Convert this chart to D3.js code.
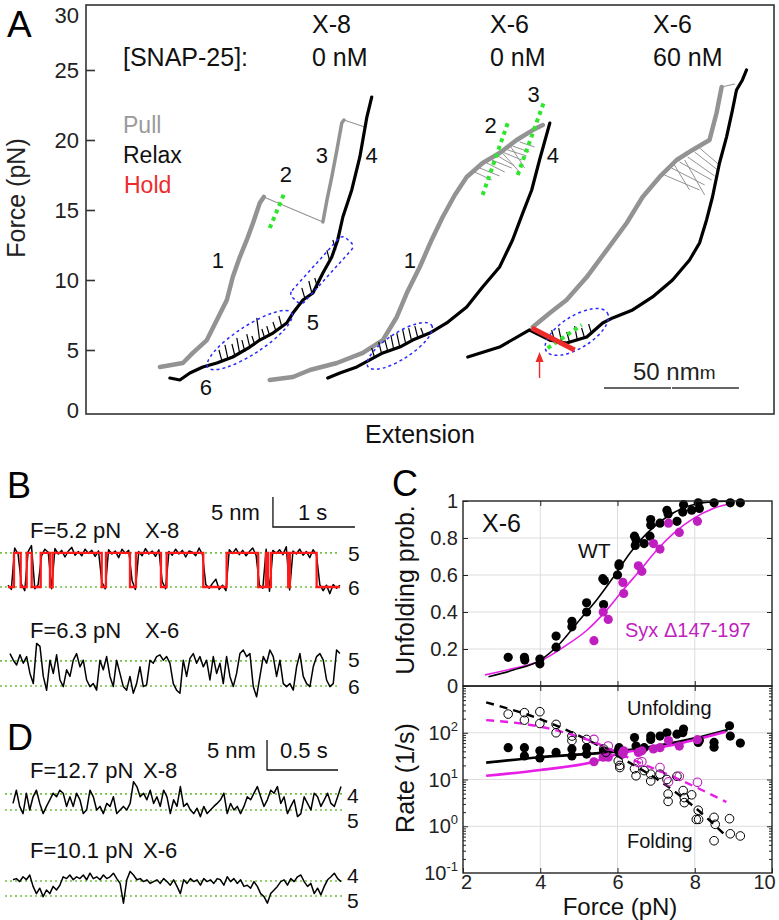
<!DOCTYPE html>
<html>
<head>
<meta charset="utf-8">
<script src="https://cdn.jsdelivr.net/npm/d3@7/dist/d3.min.js"></script>
<style>
html,body{margin:0;padding:0;background:#fff;}
svg{display:block;}
</style>
</head>
<body>
<svg id="fig" width="779" height="920" xmlns="http://www.w3.org/2000/svg"></svg>
<script>
// ================= DATA =================
// ---- Panel A: force-extension traces [extension (nm), force (pN)] ----
const forceTicksA = [0, 5, 10, 15, 20, 25, 30];
const pullX8a = [[27.4,3.79],[35.9,4.07],[39.6,4.79],[44.8,5.71],[48.5,7.14],[52.2,8.57],[54.4,10.21],[57.0,11.64],[59.6,12.86],[61.9,14.07],[64.4,15.5],[65.9,15.93]];
const pullX8drop = [[65.9,15.93],[87.8,14.14]];
const pullX8b = [[87.8,14.14],[89.3,15.71],[91.1,17.36],[93.0,19.29],[94.8,21.21],[95.6,21.43]];
const pullX8link = [[95.6,21.43],[103.3,20.93]];
const relaxX8 = [[105.9,23.07],[104.1,21.64],[101.5,18.79],[98.5,16.43],[95.2,14.5],[93.3,12.86],[91.1,11.64],[87.8,10.5],[84.1,9.07],[80.4,8.57],[76.7,7.64],[74.4,6.93],[69.3,6.21],[64.4,5.71],[60.7,5.21],[54.4,4.5],[48.5,4.07],[43.3,3.79],[38.5,3.36],[34.8,2.86],[31.1,3.0]];
const pullX6 = [[68.1,2.86],[76.7,3.07],[83.0,3.57],[93.0,4.07],[102.6,4.79],[110.0,5.71],[115.2,7.36],[118.9,9.07],[123.7,10.93],[128.1,12.86],[132.2,14.5],[136.7,16.07],[141.1,17.36],[147.0,18.36],[153.3,19.07],[159.6,20.0],[165.6,20.71],[169.3,21.07]];
const relaxX6 = [[171.9,21.21],[168.1,18.57],[165.2,16.43],[161.9,14.79],[158.1,12.86],[153.3,10.93],[147.0,9.5],[141.1,8.07],[133.7,6.93],[127.4,6.21],[121.1,5.71],[116.3,5.21],[110.0,4.79],[100.4,3.79],[94.1,3.36],[89.6,3.0]];
const pullX6s = [[165.6,6.64],[171.9,7.64],[178.1,8.57],[185.6,10.21],[193.0,12.14],[200.4,14.07],[206.3,15.93],[212.6,17.36],[218.9,18.57],[224.8,19.29],[231.1,20.0],[233.7,21.93],[235.6,23.79]];
const pullX6sLink = [[235.6,23.79],[240.4,24.0]];
const relaxX6s = [[141.5,4.5],[153.3,5.21],[164.4,6.43],[171.9,5.71],[178.1,5.5],[185.6,5.93],[191.5,6.93],[195.2,7.29],[202.6,7.86],[210.0,8.79],[217.4,10.0],[223.7,11.43],[227.4,12.64],[230.0,14.29],[232.2,15.93],[234.8,18.36],[237.4,20.21],[239.6,22.14],[241.1,23.57],[243.3,24.29],[244.8,25.0]];
const holdX6s = [[165.2,6.57],[181.1,5.0]];
// hopping spikes on relax traces [ext, F base, F top]
const spikesX8 = [[50.4,4.21,5.0],[52.6,4.36,5.36],[55.2,4.57,5.43],[57.0,4.71,5.86],[58.9,4.86,5.71],[60.7,5.21,6.14],[62.6,5.36,6.0],[64.4,5.64,7.29],[66.3,5.79,6.5],[68.1,6.0,6.71],[70.4,6.36,7.0],[72.6,6.64,7.43],[81.1,8.71,9.43],[83.7,9.07,9.93],[85.9,9.43,10.14],[90.4,11.29,12.14],[92.6,12.14,12.86]];
const spikesX6 = [[107.0,4.43,5.14],[109.6,4.71,5.57],[111.9,4.86,5.71],[114.1,5.0,6.07],[116.3,5.21,6.21],[118.5,5.43,6.43],[120.7,5.64,6.57],[123.0,5.86,6.71],[125.2,6.0,6.57]];
const spikesX6s = [[173.7,5.64,6.43],[176.3,5.57,6.57],[179.3,5.5,6.29],[182.2,5.64,6.71],[184.8,5.86,6.57],[187.4,6.14,6.86]];
// hopping on pull traces [ext1, F1, ext2, F2]
const hopsX6 = [[144.1,17.71,150.4,17.14],[145.9,18.0,153.3,17.43],[148.5,18.36,155.2,17.71],[150.4,18.57,157.8,18.0],[152.6,18.86,158.9,18.14],[154.4,19.14,161.5,18.57],[156.3,19.29,163.3,18.86],[158.1,19.57,164.4,19.14],[160.7,19.86,166.3,19.5],[153.3,19.29,160.7,17.71],[157.0,19.64,162.6,18.0]];
const hopsX6s = [[214.4,17.5,227.4,16.43],[217.0,18.0,229.3,16.79],[220.0,18.43,231.9,17.14],[223.0,18.79,233.0,17.43],[225.6,19.14,234.1,17.86],[227.4,19.43,234.8,18.21],[221.9,18.57,229.3,16.07],[218.1,18.21,223.7,16.43]];
const greenX8 = [[68.1,13.71],[73.7,16.29]];
const greenX6a = [[147.0,16.07],[156.3,21.21]];
const greenX6b = [[160.0,17.5],[169.6,22.64]];
const greenX6s = [[171.1,5.14],[183.7,6.79]];
const arrowX6s = [[168.1,3.0],[168.1,4.86]];

// ---- Panel B ----
const b1Times = [0,0.073,0.155,0.228,0.289,0.399,0.512,0.545,1.143,1.195,1.488,1.561,1.866,1.935,2.382,2.667,3.052,3.146,3.171,3.207,3.418,3.439,3.765,4.049];
const b1States = [6,5,6,5,6,5,6,5,6,5,6,5,6,5,6,5,6,5,6,5,6,5,6,6];
const b1Levels = {5: 5.7, 6: 0};
const b1Noise = [0.3,-0.4,0.8,-0.2,0.5,-0.6,0.2,1.2,-0.3,0.4,-0.5,0.6,0.1,-0.3,0.7,-0.2,0.4,-0.7,0.3,0.9,-0.4,0.2,-0.5,0.6,-0.1,0.4,-0.6,0.3,0.8,-0.3,0.5,-0.2,0.3,-0.8,0.6,-0.1,0.4,1.1,-0.4,0.2,-0.5,0.7,-0.2,0.3,-0.6,0.5,0.9,-0.3,0.2,-0.4,0.6,-0.2,0.4,-0.7,0.3,0.1,-0.5,0.8,-0.3,0.4,-0.2,0.6,1.3,-0.4,0.3,-0.6,0.5,-0.1,0.7,-0.3,0.4,-0.5,0.2,0.8,-0.4,0.3,-0.2,0.6,-0.7,0.4,-0.1,0.5,-0.3,1.0,-0.5,0.3,-0.2,0.6,-0.4,0.2,-0.8,0.5,-0.3,0.4,-0.6,0.3,-1.1,0.4,-0.2,0.3];
const b2Levels = {5: 4.2, 6: 0};
const b2Span = [0.024, 4.049];
const b2Ext = [5.4,4.3,3.5,5.2,3.8,4.9,2.1,0.4,7.1,6.6,1.6,-0.7,4.3,2.1,5.2,1.0,-0.1,2.7,1.6,4.3,5.4,3.2,4.3,1.0,-0.1,0.4,-0.7,4.3,2.7,4.9,1.6,-0.1,4.3,2.1,-0.1,-0.7,1.6,-1.2,0.4,3.2,-0.1,0.2,4.3,3.8,4.9,5.2,4.3,4.9,3.8,0.4,-0.7,-1.2,4.3,1.6,4.6,5.4,3.8,4.9,3.2,4.3,1.0,4.9,2.1,3.8,0.4,4.9,1.6,-0.1,2.1,5.4,6.0,4.9,5.4,-0.1,-1.8,1.6,4.9,3.8,6.0,4.9,1.6,4.3,0.4,-0.1,0.4,-0.7,3.2,5.4,1.6,0.4,-0.1,3.2,4.9,5.4,4.3,1.0,-0.1,0.4,6.0,5.4];

// ---- Panel D ----
const d1Levels = {4: 2.7, 5: 0};
const d1Ext = [1.1,3.3,0.6,-0.6,2.8,0,2.2,3.3,1.1,-0.6,0.6,1.7,2.8,2.2,3.3,2.8,0.6,2.2,0.6,2.8,1.7,-0.6,0,3.3,2.2,0,0.6,-0.6,1.1,0.6,2.2,-0.6,0,0.6,0,1.1,4.7,3.9,2.2,2.8,1.7,3.3,1.1,2.2,0.6,3.3,2.2,-0.6,1.7,0.6,3.9,0.6,1.1,0,-0.6,0.3,-1.1,0.6,-0.6,0,0.6,1.1,1.7,2.8,-0.6,1.1,0,0.6,-0.6,0.6,2.2,1.7,2.8,3.9,2.2,0.6,1.7,3.3,2.8,3.9,1.1,2.2,-0.6,0.6,1.7,-1.1,-0.6,2.2,1.1,0,2.8,2.2,0.6,1.7,2.8,1.1,0.6,2.2,3.9];
const d2Levels = {4: 2.5, 5: 0};
const d2Ext = [2.7,2.9,2.4,3.2,2.7,3.5,1.6,0.4,1.3,-0.1,1.0,0.4,1.6,1.0,1.8,3.2,2.9,3.5,2.7,3.2,2.9,3.5,2.7,3.8,2.9,3.2,2.7,3.5,2.9,3.2,3.8,2.9,2.1,-1.2,2.7,4.1,3.5,2.7,2.9,2.4,2.7,2.1,2.4,2.7,2.1,2.9,2.4,1.8,2.7,1.6,0.4,2.7,2.1,2.9,2.4,2.7,1.8,2.9,2.4,2.7,2.1,2.9,2.7,1.8,3.2,2.4,2.9,2.1,2.7,1.6,1.8,1.3,2.4,1.6,0.4,-0.1,-1.2,0.4,1.0,1.6,2.4,2.7,1.8,2.9,2.4,3.2,3.5,2.4,1.6,2.1,0.4,1.3,0.2,1.6,2.7,3.2,3.8,2.9,2.4];
const dSpan = [0, 2.31];

// ---- Panel C ----
const cForceTicks = [2, 4, 6, 8, 10];
const cProbTicks = [0, 0.2, 0.4, 0.6, 0.8, 1];
const cRateTicks = [0.1, 1, 10, 100];
const wtProb = [[3.17,0.155],[3.59,0.155],[3.6,0.14],[3.99,0.146],[3.99,0.12],[4.41,0.27],[4.41,0.21],[4.82,0.35],[4.82,0.32],[5.2,0.45],[5.2,0.40],[5.62,0.58],[5.66,0.57],[5.64,0.44],[6.04,0.66],[6.04,0.65],[6.0,0.60],[6.44,0.81],[6.48,0.79],[6.46,0.76],[6.69,0.77],[6.84,0.81],[6.86,0.90],[6.86,0.87],[7.1,0.88],[7.28,0.95],[7.31,0.93],[7.54,0.89],[7.71,0.98],[7.69,0.94],[7.92,0.95],[8.09,0.99],[8.12,0.96],[8.5,0.99],[8.92,0.99],[9.18,0.99]];
const syxProb = [[5.39,0.245],[5.63,0.40],[5.76,0.36],[6.14,0.56],[6.16,0.50],[6.54,0.65],[6.63,0.62],[6.93,0.77],[7.1,0.74],[7.32,0.88],[7.6,0.83],[8.07,0.89]];
const wtProbFit = [[2.66,0.05],[3.3,0.086],[4.0,0.14],[4.51,0.23],[5.03,0.36],[5.46,0.465],[5.9,0.59],[6.33,0.72],[6.76,0.825],[7.28,0.915],[7.8,0.97],[8.48,0.996],[9.0,1.0]];
const syxProbFit = [[2.57,0.06],[3.3,0.095],[4.0,0.135],[4.6,0.21],[5.2,0.30],[5.72,0.41],[6.15,0.52],[6.59,0.627],[7.02,0.735],[7.45,0.825],[7.97,0.906],[8.48,0.96],[9.0,0.988]];
const wtUnfold = [[3.17,48],[3.59,48],[3.59,32],[3.99,41],[3.99,29],[4.41,38],[4.82,45],[4.82,32],[5.2,48],[5.2,35],[5.64,41],[6.02,41],[6.04,48],[6.44,79],[6.48,52],[6.69,48],[6.86,85],[6.86,72],[7.1,85],[7.28,100],[7.54,93],[7.71,120],[7.69,100],[8.09,62],[8.12,68],[8.5,62],[8.5,49],[8.9,141],[8.92,85],[9.18,60]];
const syxUnfold = [[5.39,24],[5.63,30],[5.76,30],[6.14,35],[6.16,41],[6.54,38],[6.63,41],[6.93,45],[7.1,48],[7.32,68],[7.6,52],[8.07,71]];
const wtFold = [[3.17,251],[3.59,269],[3.59,186],[3.99,282],[3.99,158],[4.41,151],[4.41,100],[4.82,85],[4.82,68],[5.2,72],[5.64,45],[5.7,38],[6.02,25],[6.06,20],[6.06,18],[6.44,17],[6.48,12],[6.69,15.5],[6.86,13],[6.86,9.3],[7.1,13],[7.28,10],[7.31,4.9],[7.31,3.4],[7.54,11.7],[7.7,5.8],[7.73,4.1],[7.73,3.2],[7.92,4.7],[8.09,2.2],[8.04,1.4],[8.1,1.4],[8.5,1.55],[8.53,1.1],[8.5,0.49],[8.9,1.45],[8.92,0.69],[9.18,0.62]];
const syxFold = [[5.39,72],[5.76,52],[6.14,38],[6.54,23],[6.63,24],[7.1,18],[7.32,8.9],[7.6,11.7],[8.07,8.7]];
const wtUnfoldFit = [[2.6,23],[4,30],[6,40],[7,52],[8,76],[8.85,115]];
const syxUnfoldFit = [[2.6,12],[4,16],[5.39,24],[6,35],[7.4,54],[8.8,105]];
const wtFoldFit = [[2.6,447],[4,195],[5.2,72],[6,32],[7.4,6.2],[8.3,1.55],[8.8,0.63]];
const syxFoldFit = [[2.6,186],[4,135],[5.2,72],[6.57,23],[7.6,10],[8.82,3.3]];

// ================= DRAWING =================
const svg = d3.select("#fig");
const FONT = "'Liberation Sans', Arial, Helvetica, sans-serif";
svg.attr("font-family", FONT);
const defs = svg.append("defs");

function label(g, x, y, s, size, fill, anchor) {
  return g.append("text").attr("x", x).attr("y", y).attr("font-size", size)
    .attr("fill", fill || "#111").attr("text-anchor", anchor || "start").text(s);
}

// ---------- Panel A ----------
const gA = svg.append("g");
const xA = d3.scaleLinear().domain([0, 255]).range([86, 774]);
const yA = d3.scaleLinear().domain([0, 30]).range([420, 0]);
const lineA = d3.line().x(d => xA(d[0])).y(d => yA(d[1]));
defs.append("clipPath").attr("id", "clipA").append("rect")
  .attr("x", 86).attr("y", 5).attr("width", 688).attr("height", 409);

const tr = gA.append("g").attr("clip-path", "url(#clipA)");
function trace(data, color, w) {
  tr.append("path").datum(data).attr("d", lineA).attr("fill", "none")
    .attr("stroke", color).attr("stroke-width", w).attr("stroke-linejoin", "round").attr("stroke-linecap", "round");
}
function spikes(data, color) {
  tr.append("path").attr("fill", "none").attr("stroke", color).attr("stroke-width", 1.2)
    .attr("d", data.map(d => `M${xA(d[0])},${yA(d[1])}L${xA(d[0]) - 3},${yA(d[2])}`).join(""));
}
function hops(data, color) {
  tr.append("path").attr("fill", "none").attr("stroke", color).attr("stroke-width", 1)
    .attr("d", data.map(d => `M${xA(d[0])},${yA(d[1])}L${xA(d[2])},${yA(d[3])}`).join(""));
}
const GRAY = "#939393";
// pulls
trace(pullX8a, GRAY, 4.5);
trace(pullX8drop, GRAY, 1.1);
trace(pullX8b, GRAY, 3.5);
trace(pullX8link, GRAY, 1.1);
trace(pullX6, GRAY, 4.5);
hops(hopsX6, GRAY);
trace(pullX6s, GRAY, 4.5);
trace(pullX6sLink, GRAY, 1.1);
hops(hopsX6s, GRAY);
// relax
trace(relaxX8, "#000", 3.2);
spikes(spikesX8, "#000");
trace(relaxX6, "#000", 3.2);
spikes(spikesX6, "#000");
trace(relaxX6s, "#000", 3.2);
spikes(spikesX6s, "#000");

// ellipses (blue dashed)
function ell(c, rx, ry, ang) {
  tr.append("ellipse").attr("cx", 0).attr("cy", 0).attr("rx", rx).attr("ry", ry)
    .attr("transform", `translate(${xA(c[0])},${yA(c[1])}) rotate(${ang})`)
    .attr("fill", "none").attr("stroke", "#2a2aff").attr("stroke-width", 1.5).attr("stroke-dasharray", "3,3");
}
ell([60.7, 5.71], 50, 14, -33);
tr.append("rect").attr("x", -40).attr("y", -8.5).attr("width", 80).attr("height", 17).attr("rx", 5)
  .attr("transform", `translate(${xA(87.4)},${yA(10.71)}) rotate(-48)`)
  .attr("fill", "none").attr("stroke", "#2a2aff").attr("stroke-width", 1.5).attr("stroke-dasharray", "3,3");
ell([116.3, 5.29], 38, 13, -33);
ell([181.9, 6.29], 36, 16, -32);

// green dotted
[greenX8, greenX6a, greenX6b, greenX6s].forEach(g => {
  tr.append("path").datum(g).attr("d", lineA).attr("stroke", "#2ee62e").attr("stroke-width", 4)
    .attr("stroke-dasharray", "4,4").attr("fill", "none");
});
// hold
tr.append("path").datum(holdX6s).attr("d", lineA).attr("stroke", "#ee2b2b").attr("stroke-width", 5).attr("fill", "none");
// arrow
{
  const ax = xA(arrowX6s[0][0]), y0 = yA(arrowX6s[0][1]), y1 = yA(arrowX6s[1][1]);
  tr.append("line").attr("x1", ax).attr("x2", ax).attr("y1", y0).attr("y2", y1 + 6)
    .attr("stroke", "#ee2b2b").attr("stroke-width", 1.4);
  tr.append("path").attr("d", `M${ax},${y1}L${ax - 4},${y1 + 10}L${ax + 4},${y1 + 10}Z`).attr("fill", "#ee2b2b");
}

// frame + axis
gA.append("rect").attr("x", 86).attr("y", 5).attr("width", 688).attr("height", 409)
  .attr("fill", "none").attr("stroke", "#333").attr("stroke-width", 1.6);
const axA = gA.append("g").attr("transform", "translate(86,0)")
  .call(d3.axisRight(yA).tickValues([5, 10, 15, 20, 25]).tickSize(9).tickFormat(""));
axA.select(".domain").remove();
axA.selectAll("line").attr("stroke", "#333").attr("stroke-width", 1.6);
forceTicksA.forEach(v => {
  const cy = Math.max(15, Math.min(410, yA(v)));
  label(gA, 79, cy + 8, v, 22, "#222", "end");
});
label(gA, 25, 198, "Force (pN)", 25, "#222", "middle").attr("transform", "rotate(-90,25,198)");
label(gA, 420, 443, "Extension", 25, "#111", "middle");
label(gA, 7, 37, "A", 37, "#000");

// headers
label(gA, 123, 66, "[SNAP-25]:", 25);
label(gA, 312, 33, "X-8", 25); label(gA, 312, 66, "0 nM", 25);
label(gA, 490, 33, "X-6", 25); label(gA, 490, 66, "0 nM", 25);
label(gA, 653, 33, "X-6", 25); label(gA, 653, 66, "60 nM", 25);
label(gA, 123, 133, "Pull", 23, "#9a9a9a");
label(gA, 123, 163, "Relax", 23, "#111");
label(gA, 124, 193, "Hold", 23, "#ee2b2b");
// state numbers
[["1",48.9,10.86],["2",74.1,17.0],["3",87.4,18.36],["4",105.9,18.36],["5",84.1,6.43],["6",44.4,1.79],
 ["1",120.0,10.86],["2",150.0,20.5],["3",165.9,22.71],["4",173.0,18.36]].forEach(d => {
  label(gA, xA(d[1]), yA(d[2]), d[0], 22, "#111", "middle");
});
// scale bar 50 nm
{
  const sb0 = 192, yb = 388;
  gA.append("line").attr("x1", xA(sb0)).attr("x2", xA(sb0 + 25) - 0.5).attr("y1", yb).attr("y2", yb).attr("stroke", "#333").attr("stroke-width", 1.3);
  gA.append("line").attr("x1", xA(sb0 + 25) + 0.5).attr("x2", xA(sb0 + 50)).attr("y1", yb).attr("y2", yb).attr("stroke", "#333").attr("stroke-width", 1.3);
  const t = gA.append("text").attr("x", 633).attr("y", 380).attr("font-size", 24).attr("fill", "#222");
  t.append("tspan").text("50 nm");
  t.append("tspan").attr("font-size", 19).attr("dy", -1).text("m");
}

// ---------- Panels B and D ----------
const gB = svg.append("g");
const xB = d3.scaleLinear().domain([0, 4.05]).range([8, 340]);
const xD = d3.scaleLinear().domain([0, 2.31]).range([13, 341]);
function yTrace(zero) { return d3.scaleLinear().domain([0, 5]).range([zero, zero - 30]); }
const yB1 = yTrace(587), yB2 = yTrace(686), yD1 = yTrace(810), yD2 = yTrace(896);

function levelLines(y, levels, x0, x1) {
  Object.values(levels).forEach(v => gB.append("line").attr("x1", x0).attr("x2", x1)
    .attr("y1", y(v)).attr("y2", y(v)).attr("stroke", "#74c043").attr("stroke-width", 1.7)
    .attr("stroke-dasharray", "2,3"));
}
levelLines(yB1, b1Levels, 0, 340);
levelLines(yB2, b2Levels, 0, 340);
levelLines(yD1, d1Levels, 5, 343);
levelLines(yD2, d2Levels, 5, 343);

function sampleLine(xs, ys, vals, span) {
  const n = vals.length;
  const pts = vals.map((v, i) => [span[0] + i * (span[1] - span[0]) / (n - 1), v]);
  gB.append("path").datum(pts).attr("d", d3.line().x(d => xs(d[0])).y(d => ys(d[1])))
    .attr("fill", "none").attr("stroke", "#000").attr("stroke-width", 1.5).attr("stroke-linejoin", "round");
}
// B1 black (state level + noise), then red idealized steps
{
  const tEnd = b1Times[b1Times.length - 1];
  const vals = b1Noise.map((nz, i) => {
    const t = i * tEnd / (b1Noise.length - 1);
    let k = 0;
    while (k + 1 < b1Times.length && b1Times[k + 1] <= t) k++;
    return b1Levels[b1States[k]] + nz;
  });
  sampleLine(xB, yB1, vals, [0, tEnd]);
  const stepPts = b1Times.map((t, i) => [t, b1Levels[b1States[i]]]);
  gB.append("path").datum(stepPts)
    .attr("d", d3.line().x(d => xB(d[0])).y(d => yB1(d[1])).curve(d3.curveStepAfter))
    .attr("fill", "none").attr("stroke", "#ff1a1a").attr("stroke-width", 2.3);
}
sampleLine(xB, yB2, b2Ext, b2Span);
sampleLine(xD, yD1, d1Ext, dSpan);
sampleLine(xD, yD2, d2Ext, dSpan);

label(gB, 7, 498, "B", 36, "#000");
label(gB, 7, 750, "D", 36, "#000");
label(gB, 30, 538, "F=5.2 pN", 22); label(gB, 145, 538, "X-8", 22);
label(gB, 30, 638, "F=6.3 pN", 22); label(gB, 145, 638, "X-6", 22);
label(gB, 30, 778, "F=12.7 pN", 22); label(gB, 143, 778, "X-8", 22);
label(gB, 30, 858, "F=10.1 pN", 22); label(gB, 143, 858, "X-6", 22);
label(gB, 348, 561, "5", 21); label(gB, 348, 595, "6", 21);
label(gB, 348, 667, "5", 21); label(gB, 348, 694, "6", 21);
label(gB, 347, 803, "4", 21); label(gB, 347, 828, "5", 21);
label(gB, 347, 883, "4", 21); label(gB, 347, 908, "5", 21);
// scale bars
{
  const bx = xB(3.232);
  gB.append("path").attr("d", `M${bx},497V527H${xB(4.232)}`).attr("fill", "none").attr("stroke", "#111").attr("stroke-width", 1.3);
  label(gB, 211, 520, "5 nm", 22); label(gB, 298, 520, "1 s", 22);
  const dx = xD(1.789);
  gB.append("path").attr("d", `M${dx},740V770H${xD(2.289)}`).attr("fill", "none").attr("stroke", "#111").attr("stroke-width", 1.3);
  label(gB, 207, 758, "5 nm", 22); label(gB, 280, 758, "0.5 s", 22);
}

// ---------- Panel C ----------
const gC = svg.append("g");
const xC = d3.scaleLinear().domain([2, 10]).range([463, 772]);
const yP = d3.scaleLinear().domain([0, 1]).range([686, 501]);
const yR = d3.scaleLog().domain([0.1, 1000]).range([873, 686]);
const MAG_DOT = "#c01fc0", MAG_LINE = "#e61ee6";

// grid
[4, 6, 8].forEach(v => gC.append("line").attr("x1", xC(v)).attr("x2", xC(v)).attr("y1", 501).attr("y2", 873).attr("stroke", "#dcdcdc"));
[0.2, 0.4, 0.6, 0.8].forEach(v => gC.append("line").attr("x1", 463).attr("x2", 772).attr("y1", yP(v)).attr("y2", yP(v)).attr("stroke", "#dcdcdc"));
[1, 10, 100].forEach(v => gC.append("line").attr("x1", 463).attr("x2", 772).attr("y1", yR(v)).attr("y2", yR(v)).attr("stroke", "#dcdcdc"));

const lineP = d3.line().x(d => xC(d[0])).y(d => yP(d[1])).curve(d3.curveMonotoneX);
const lineR = d3.line().x(d => xC(d[0])).y(d => yR(d[1])).curve(d3.curveMonotoneX);
// top: fits and dots
gC.append("path").datum(syxProbFit).attr("d", lineP).attr("fill", "none").attr("stroke", MAG_LINE).attr("stroke-width", 1.6);
gC.append("path").datum(wtProbFit).attr("d", lineP).attr("fill", "none").attr("stroke", "#000").attr("stroke-width", 1.6);
gC.selectAll(null).data(wtProb).enter().append("circle").attr("cx", d => xC(d[0])).attr("cy", d => yP(d[1])).attr("r", 4.6).attr("fill", "#000");
gC.selectAll(null).data(syxProb).enter().append("circle").attr("cx", d => xC(d[0])).attr("cy", d => yP(d[1])).attr("r", 4.6).attr("fill", MAG_DOT);
// bottom: fits
gC.append("path").datum(wtUnfoldFit).attr("d", lineR).attr("fill", "none").attr("stroke", "#000").attr("stroke-width", 2.6);
gC.append("path").datum(syxUnfoldFit).attr("d", lineR).attr("fill", "none").attr("stroke", MAG_LINE).attr("stroke-width", 2.6);
gC.append("path").datum(wtFoldFit).attr("d", lineR).attr("fill", "none").attr("stroke", "#000").attr("stroke-width", 2.4).attr("stroke-dasharray", "8,6");
gC.append("path").datum(syxFoldFit).attr("d", lineR).attr("fill", "none").attr("stroke", MAG_LINE).attr("stroke-width", 2.4).attr("stroke-dasharray", "8,6");
gC.selectAll(null).data(wtUnfold).enter().append("circle").attr("cx", d => xC(d[0])).attr("cy", d => yR(d[1])).attr("r", 4.6).attr("fill", "#000");
gC.selectAll(null).data(syxUnfold).enter().append("circle").attr("cx", d => xC(d[0])).attr("cy", d => yR(d[1])).attr("r", 4.6).attr("fill", MAG_DOT);
gC.selectAll(null).data(wtFold).enter().append("circle").attr("cx", d => xC(d[0])).attr("cy", d => yR(d[1])).attr("r", 4.3).attr("fill", "none").attr("stroke", "#000").attr("stroke-width", 1);
gC.selectAll(null).data(syxFold).enter().append("circle").attr("cx", d => xC(d[0])).attr("cy", d => yR(d[1])).attr("r", 4.3).attr("fill", "none").attr("stroke", MAG_DOT).attr("stroke-width", 1.1);

// frames
gC.append("rect").attr("x", 463).attr("y", 501).attr("width", 309).attr("height", 185).attr("fill", "none").attr("stroke", "#222").attr("stroke-width", 1.4);
gC.append("rect").attr("x", 463).attr("y", 686).attr("width", 309).attr("height", 187).attr("fill", "none").attr("stroke", "#222").attr("stroke-width", 1.4);

function styleAxis(g) { g.select(".domain").remove(); g.selectAll("line").attr("stroke", "#222"); g.selectAll("text").attr("font-family", FONT).attr("fill", "#222"); }
// x ticks
const xb = gC.append("g").attr("transform", "translate(0,873)")
  .call(d3.axisBottom(xC).tickValues(cForceTicks).tickSize(-5).tickPadding(2).tickFormat(d3.format("d")));
styleAxis(xb); xb.selectAll("text").attr("font-size", 20);
xb.selectAll(".tick").filter(d => d === 10).select("text").attr("dx", -8);
xb.selectAll(".tick").filter(d => d === 2).select("text").attr("dx", 3);
[[686, d3.axisBottom], [686, d3.axisTop], [501, d3.axisTop]].forEach(([y, fn]) => {
  const g = gC.append("g").attr("transform", `translate(0,${y})`).call(fn(xC).tickValues([4, 6, 8]).tickSize(-5).tickFormat(""));
  styleAxis(g);
});
// y ticks top
const yl = gC.append("g").attr("transform", "translate(463,0)")
  .call(d3.axisLeft(yP).tickValues(cProbTicks).tickSize(-5).tickPadding(5).tickFormat(d => d === 0 ? "0" : d === 1 ? "1" : d.toFixed(1)));
styleAxis(yl); yl.selectAll("text").attr("font-size", 20);
styleAxis(gC.append("g").attr("transform", "translate(772,0)").call(d3.axisRight(yP).tickValues([0.2, 0.4, 0.6, 0.8]).tickSize(-5).tickFormat("")));
// log ticks bottom
const minors = [];
[0.1, 1, 10, 100].forEach(dec => { for (let m = 2; m <= 9; m++) minors.push(dec * m); });
styleAxis(gC.append("g").attr("transform", "translate(463,0)").call(d3.axisLeft(yR).tickValues([1, 10, 100]).tickSize(-5).tickFormat("")));
styleAxis(gC.append("g").attr("transform", "translate(772,0)").call(d3.axisRight(yR).tickValues([1, 10, 100]).tickSize(-5).tickFormat("")));
styleAxis(gC.append("g").attr("transform", "translate(463,0)").call(d3.axisLeft(yR).tickValues(minors).tickSize(-3).tickFormat("")));
styleAxis(gC.append("g").attr("transform", "translate(772,0)").call(d3.axisRight(yR).tickValues(minors).tickSize(-3).tickFormat("")));
cRateTicks.forEach(v => {
  const t = gC.append("text").attr("x", 458).attr("y", yR(v) + 7).attr("text-anchor", "end").attr("font-size", 20).attr("fill", "#222");
  t.append("tspan").text("10");
  t.append("tspan").attr("dy", -9).attr("font-size", 13).text(String(Math.round(Math.log10(v))));
});
label(gC, 414, 590, "Unfolding prob.", 25, "#111", "middle").attr("transform", "rotate(-90,414,590)");
label(gC, 414, 778, "Rate (1/s)", 25, "#111", "middle").attr("transform", "rotate(-90,414,778)");
label(gC, 620, 915, "Force (pN)", 24, "#111", "middle");
label(gC, 392, 496, "C", 36, "#000");
label(gC, 482, 532, "X-6", 25);
label(gC, 578, 558, "WT", 21);
label(gC, 625, 637, "Syx \u0394147-197", 20, MAG_DOT);
label(gC, 627, 715, "Unfolding", 20);
label(gC, 627, 848, "Folding", 20);
</script>
</body>
</html>
